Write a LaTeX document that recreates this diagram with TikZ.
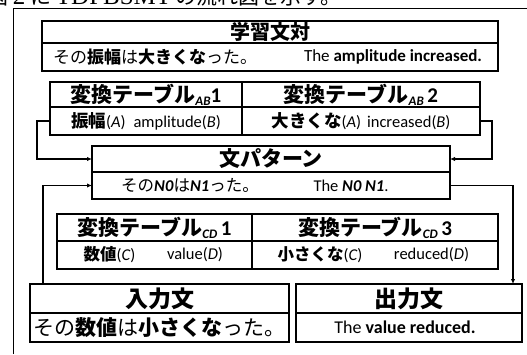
\documentclass[tikz,border=0pt]{standalone}
\usepackage{fontspec}
\setmainfont{Carlito}
\newfontfamily\jp{Noto Sans CJK JP}
\newfontfamily\serifl{Liberation Serif}
\usetikzlibrary{arrows.meta}
\newcommand{\fs}[1]{\fontsize{#1}{#1}\selectfont}
\newcommand{\J}[1]{{\jp #1}}
\newcommand{\JB}[1]{{\jp\bfseries #1}}
\newcommand{\tsub}[1]{\raisebox{-3pt}{\fs{13}\bfseries\itshape #1}}
\begin{document}
\begin{tikzpicture}[x=1pt,y=-1pt,
  box/.style={draw, line width=1.3pt, inner sep=0pt, outer sep=0pt},
  conn/.style={line width=1.4pt},
  arr/.style={conn, -{Latex[length=5pt,width=4.5pt]}},
  txt/.style={inner sep=0pt, anchor=center}]
\useasboundingbox (0,0) rectangle (527,354);
% caption (cut at top)
\begin{scope}
\clip (0,0) rectangle (527,354);
\node[inner sep=0pt, anchor=base west] (cap) at (-13,4)
  {\fs{21}\J{図} {\serifl\fs{25}2} \J{に} {\serifl\fs{25}TDPBSMT} \J{の流れ図を示す。}};
\end{scope}
% outer frame
\draw[line width=0.9pt] (13,354) -- (13,8) -- (527,8);
% learning pair
\node[box, minimum width=456pt, minimum height=22pt] (Lh) at (270,32) {};
\node[box, minimum width=456pt, minimum height=28pt] (Lr) at (270,57) {};
% AB tables
\node[box, minimum width=192pt, minimum height=25pt] (ABh1) at (146,94.5) {};
\node[box, minimum width=238pt, minimum height=25pt] (ABh2) at (361,94.5) {};
\node[box, minimum width=192pt, minimum height=28pt] (ABr1) at (146,121) {};
\node[box, minimum width=238pt, minimum height=28pt] (ABr2) at (361,121) {};
% pattern
\node[box, minimum width=358pt, minimum height=26pt] (Ph) at (271,159) {};
\node[box, minimum width=358pt, minimum height=27pt] (Pr) at (271,185.5) {};
% CD tables
\node[box, minimum width=195pt, minimum height=27pt] (CDh1) at (154.5,227.5) {};
\node[box, minimum width=246pt, minimum height=27pt] (CDh2) at (375,227.5) {};
\node[box, minimum width=195pt, minimum height=28pt] (CDr1) at (154.5,255) {};
\node[box, minimum width=246pt, minimum height=28pt] (CDr2) at (375,255) {};
% input / output
\node[box, minimum width=259pt, minimum height=29pt] (Ih) at (159.5,298.5) {};
\node[box, minimum width=259pt, minimum height=29pt] (Ir) at (159.5,327.5) {};
\node[box, minimum width=226pt, minimum height=29pt] (Oh) at (409,298.5) {};
\node[box, minimum width=226pt, minimum height=29pt] (Or) at (409,327.5) {};
% texts
\node[txt] (tLh) at (Lh) {\fs{20}\JB{学習文対}};
\node[txt] (tLr1) at (155,57) {\fs{17}\J{その}\JB{振幅}\J{は}\JB{大きくな}\J{った。}};
\node[txt] (tLr2) at (393,57) {\fs{17}The \textbf{amplitude increased.}};
\node[txt] (tAB1) at (ABh1) {\fs{21}\JB{変換テーブル}\tsub{AB}\textbf{1}};
\node[txt] (tAB2) at (ABh2) {\fs{21}\JB{変換テーブル}\tsub{AB}\,\textbf{2}};
\node[txt] (tABr1) at (ABr1) {\fs{16.5}{\fs{17.5}\JB{振幅}}(\textit{A})\hspace{8pt}amplitude(\textit{B})};
\node[txt] (tABr2) at (ABr2) {\fs{16.5}{\fs{17.5}\JB{大きくな}}(\textit{A})\hspace{6pt}increased(\textit{B})};
\node[txt] (tPh) at (Ph) {\fs{21}\JB{文パターン}};
\node[txt] (tPr1) at (190,185.5) {\fs{16.5}\J{その}\textbf{\textit{N0}}\J{は}\textbf{\textit{N1}}\J{った。}};
\node[txt] (tPr2) at (351,185.5) {\fs{16.5}The \textbf{\textit{N0 N1}}.};
\node[txt] (tCD1) at (CDh1) {\fs{21}\JB{変換テーブル}\tsub{CD}\,\textbf{1}};
\node[txt] (tCD2) at (CDh2) {\fs{21}\JB{変換テーブル}\tsub{CD}\,\textbf{3}};
\node[txt] (tCDa) at (109.5,255) {\fs{16.5}\JB{数値}(\textit{C})};
\node[txt] (tCDb) at (195,255) {\fs{16.5}value(\textit{D})};
\node[txt] (tCDc) at (320,255) {\fs{16.5}\JB{小さくな}(\textit{C})};
\node[txt] (tCDd) at (431.5,255) {\fs{16.5}reduced(\textit{D})};
\node[txt] (tIh) at (Ih) {\fs{23}\JB{入力文}};
\node[txt] (tIr) at (Ir) {\fs{21}\J{その}\JB{数値}\J{は}\JB{小さくな}\J{った。}};
\node[txt] (tOh) at (Oh) {\fs{23}\JB{出力文}};
\node[txt] (tOr) at (405,327.5) {\fs{18}The \textbf{value reduced.}};
% connectors
\draw[arr] (ABr1.west) -- ++(-13,0) |- (Ph.west);
\draw[arr] (ABr2.east) -- ++(12,0) |- (Ph.east);
\draw[arr] ([xshift=13pt]Ih.north west) |- (Pr.west);
\draw[arr] (Pr.east) -| ([xshift=-9pt]Oh.north east);
\end{tikzpicture}
\end{document}
